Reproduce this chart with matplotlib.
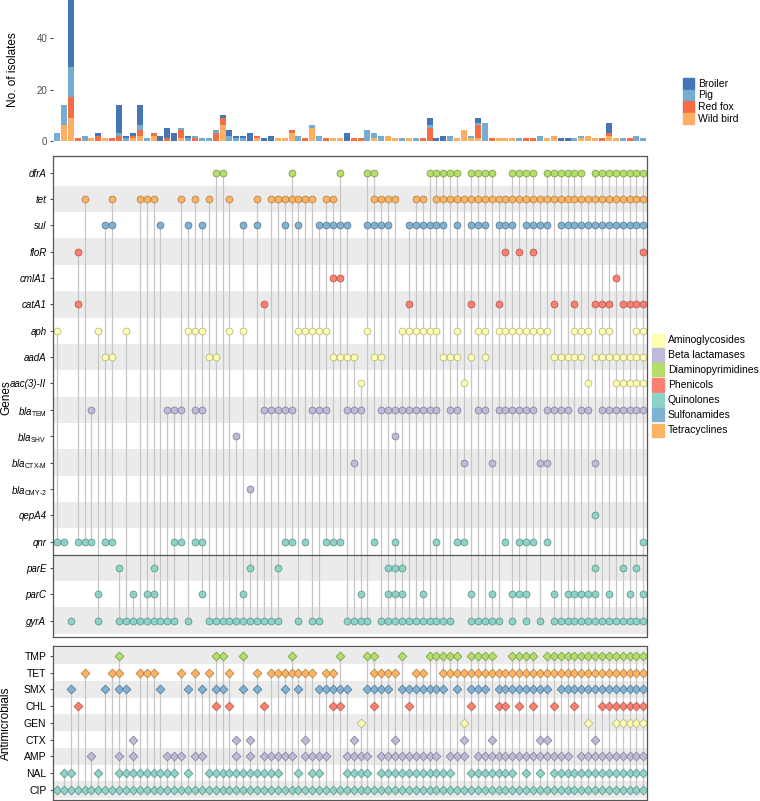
import matplotlib.pyplot as plt
import matplotlib.colors as mcolors
from matplotlib.patches import Rectangle

plt.rcParams["font.family"] = ["Liberation Sans", "DejaVu Sans"]
plt.rcParams["mathtext.fontset"] = "custom"
plt.rcParams["mathtext.rm"] = "Liberation Sans"
plt.rcParams["mathtext.it"] = "Liberation Sans:italic"

W, H = 760, 801

# isolates per resistance profile, profiles 1..86 from left to right
broiler = [0, 0, 26, 0, 0, 0, 1, 0, 0, 11, 1, 1, 8, 0, 0, 2, 4, 3, 0, 1,
           0, 0, 0, 0, 1, 2, 1, 1, 3, 0, 1, 2, 0, 0, 0, 0, 0, 0, 0, 0,
           0, 0, 3, 0, 0, 0, 0, 0, 0, 0, 0, 0, 0, 0, 3, 1, 2, 0, 0, 0,
           0, 2, 0, 0, 0, 0, 0, 0, 0, 0, 0, 0, 0, 1, 1, 0, 0, 0, 0, 0,
           4, 0, 0, 0, 0, 0]
pig = [3, 8, 12, 0, 2, 0, 0, 0, 0, 1, 1, 0, 2, 1, 0, 0, 0, 0, 1, 1,
       1, 1, 1, 1, 0, 2, 1, 1, 0, 0, 0, 0, 0, 0, 0, 2, 0, 1, 2, 0,
       0, 0, 0, 0, 0, 4, 2, 2, 0, 0, 1, 0, 1, 0, 1, 0, 0, 2, 0, 0,
       1, 1, 7, 0, 0, 0, 0, 1, 0, 0, 2, 0, 0, 0, 0, 1, 1, 0, 0, 0,
       0, 0, 1, 0, 2, 1]
red_fox = [0, 0, 8, 1, 0, 0, 2, 0, 1, 2, 0, 1, 2, 0, 1, 0, 1, 0, 3, 0,
           1, 0, 0, 3, 3, 0, 0, 0, 0, 1, 0, 0, 0, 0, 1, 0, 1, 0, 0, 1,
           0, 0, 0, 1, 1, 0, 0, 0, 0, 0, 0, 0, 0, 1, 5, 0, 0, 0, 0, 0,
           0, 5, 0, 1, 0, 0, 0, 0, 1, 1, 0, 0, 0, 0, 0, 0, 0, 0, 0, 1,
           1, 0, 0, 1, 0, 0]
wild_bird = [0, 6, 9, 0, 0, 1, 0, 1, 0, 0, 0, 1, 2, 0, 2, 0, 0, 0, 1, 0,
             0, 0, 0, 0, 6, 0, 0, 0, 0, 1, 0, 0, 1, 1, 3, 0, 0, 5, 0, 0,
             1, 1, 0, 0, 0, 0, 1, 0, 2, 1, 0, 1, 0, 0, 0, 0, 0, 0, 1, 4,
             1, 1, 0, 0, 1, 1, 1, 0, 0, 0, 0, 1, 2, 0, 0, 0, 1, 2, 1, 0,
             2, 1, 0, 0, 0, 0]

hosts = ["Broiler", "Pig", "Red fox", "Wild bird"]
host_colors = ["#4575B4", "#74ADD1", "#F46D43", "#FDAE61"]

drug_classes = ["Aminoglycosides", "Beta lactamases", "Diaminopyrimidines",
                "Phenicols", "Quinolones", "Sulfonamides", "Tetracyclines"]
class_colors = ["#FFFFB3", "#BEBADA", "#B3DE69", "#FB8072", "#8DD3C7",
                "#80B1D3", "#FDB462"]

# genes found, listed as profile numbers
dfrA = [24, 25, 35, 42, 46, 47, 55, 56, 57, 58, 59, 61, 62, 63, 64, 67, 68,
        69, 70, 72, 73, 74, 75, 76, 77, 79, 80, 81, 82, 83, 84, 85, 86]
tet = [5, 9, 13, 14, 15, 19, 21, 23, 26, 30, 32, 33, 34, 35, 36, 37, 38, 40,
       41, 47, 48, 49, 50, 53, 54] + list(range(56, 87))
sul = [8, 9, 16, 20, 22, 28, 30, 34, 36, 39, 40, 41, 42, 43, 46, 47, 48, 49,
       52, 53, 54, 55, 56, 57, 59, 61, 62, 63, 65, 66, 67, 69, 70, 71, 72] + list(range(74, 87))
floR = [4, 66, 68, 70, 86]
cmlA1 = [41, 42, 82]
catA1 = [4, 31, 52, 61, 65, 73, 76, 79, 80, 81, 83, 84, 85, 86]
aph = [1, 7, 11, 20, 21, 22, 26, 28, 36, 37, 38, 39, 40, 46, 51, 52, 53, 54,
       55, 56, 59, 62, 63, 65, 66, 67, 68, 69, 70, 71, 72, 76, 77, 78, 80, 81,
       85, 86]
aadA = [8, 9, 23, 24, 41, 42, 43, 44, 47, 48, 57, 58, 59, 61, 63, 73, 74, 75,
        76, 77, 79, 80, 81, 82, 83, 84, 85, 86]
aac3_II = [45, 60, 78, 82, 83, 84, 85, 86]
bla_tem = [6, 17, 18, 19, 21, 22, 31, 32, 33, 34, 35, 38, 39, 40, 43, 44, 45,
           48, 49, 50, 51, 52, 53, 54, 55, 56, 58, 59, 62, 63, 65, 66, 67, 68,
           69, 70, 72, 73, 74, 75, 77, 78, 80, 81, 82, 83, 84, 85, 86]
bla_shv = [27, 50]
bla_ctxm = [44, 60, 64, 71, 72, 79]
bla_cmy2 = [29]
qepA4 = [79]
qnr = [1, 2, 4, 5, 6, 8, 9, 18, 19, 21, 22, 34, 35, 37, 40, 41, 42, 47, 50,
       56, 59, 60, 66, 68, 69, 70, 72, 86]
parE = [10, 15, 29, 33, 49, 50, 51, 79, 83, 85]
parC = [7, 12, 14, 15, 22, 28, 45, 49, 50, 51, 54, 61, 64, 67, 68, 69, 73, 75,
        76, 77, 78, 79, 81, 84, 86]
gyrA = [3, 7, 10, 11, 12, 13, 14, 15, 16, 17, 18, 20, 23, 24, 25, 26, 27, 28,
        29, 30, 31, 32, 33, 36, 38, 39, 43, 44, 45, 46, 48, 49, 50, 51, 52, 53,
        54, 55, 56, 57, 58, 61, 62, 63, 64, 65, 67, 69, 71] + list(range(73, 87))

gene_labels = ["dfrA", "tet", "sul", "floR", "cmlA1", "catA1", "aph", "aadA",
               "aac(3)-II", r"$\mathit{bla}_{\mathrm{TEM}}$",
               r"$\mathit{bla}_{\mathrm{SHV}}$", r"$\mathit{bla}_{\text{CTX-M}}$",
               r"$\mathit{bla}_{\text{CMY-2}}$", "qepA4", "qnr", "parE", "parC",
               "gyrA"]
gene_rows = [dfrA, tet, sul, floR, cmlA1, catA1, aph, aadA, aac3_II, bla_tem,
             bla_shv, bla_ctxm, bla_cmy2, qepA4, qnr, parE, parC, gyrA]
gene_class = ["Diaminopyrimidines", "Tetracyclines", "Sulfonamides",
              "Phenicols", "Phenicols", "Phenicols", "Aminoglycosides",
              "Aminoglycosides", "Aminoglycosides", "Beta lactamases",
              "Beta lactamases", "Beta lactamases", "Beta lactamases",
              "Quinolones", "Quinolones", "Quinolones", "Quinolones",
              "Quinolones"]

# phenotypic resistance, profile numbers
TMP = [10, 24, 25, 28, 35, 42, 46, 47, 51, 55, 56, 57, 58, 59, 61, 62, 63,
       64, 67, 68, 69, 70] + list(range(72, 87))
TET = [5, 9, 10, 13, 14, 15, 19, 21, 23, 26, 30, 32, 33, 34, 35, 36, 37, 38,
       40, 41, 47, 48, 49, 50, 53, 54] + list(range(57, 87))
SMX = [3, 8, 10, 11, 16, 20, 22, 24, 25, 28, 30, 34, 36, 39, 40, 41, 42, 43,
       46, 47, 48, 49, 51, 52, 53, 54, 55, 56, 57, 59, 61, 62, 63, 65, 66, 67,
       68, 69, 70, 71, 72] + list(range(74, 87))
CHL = [4, 24, 26, 31, 41, 42, 47, 52, 61, 65, 66, 68, 70, 73, 76, 80, 81, 82,
       83, 84, 85, 86]
GEN = [45, 60, 78, 82, 83, 84, 85, 86]
CTX = [12, 27, 29, 37, 44, 50, 60, 64, 71, 72, 79]
AMP = [6, 10, 12, 17, 18, 19, 21, 22, 27, 29, 31, 32, 33, 34, 35, 37, 38, 39,
       40, 43, 44, 45, 46, 48, 49, 50, 51, 52, 53, 54, 55, 56, 58, 59, 60] + \
      list(range(62, 76)) + list(range(77, 87))
NAL = [2, 3, 7, 10, 11, 12, 13, 14, 15, 16, 17, 18, 20, 23, 24, 25, 26, 27,
       28, 29, 30, 31, 32, 33, 36, 38, 39, 43, 44, 45, 46] + \
      list(range(48, 59)) + list(range(61, 68)) + [69, 71] + list(range(73, 87))
CIP = list(range(1, 87))

amr_labels = ["TMP", "TET", "SMX", "CHL", "GEN", "CTX", "AMP", "NAL", "CIP"]
amr_rows = [TMP, TET, SMX, CHL, GEN, CTX, AMP, NAL, CIP]
amr_class = ["Diaminopyrimidines", "Tetracyclines", "Sulfonamides", "Phenicols",
             "Aminoglycosides", "Beta lactamases", "Beta lactamases",
             "Quinolones", "Quinolones"]

profiles = list(range(1, len(broiler) + 1))


def fig_rect(left, top, right, bottom):
    return [left / W, 1 - bottom / H, (right - left) / W, (bottom - top) / H]


def darker(color, f=0.72):
    r, g, b = mcolors.to_rgb(color)
    return (r * f, g * f, b * f)


def draw_matrix(ax, rows, classes, labels, marker, size, shade_even, fs):
    for k in range(len(rows)):
        if (k % 2 == 0) == shade_even:
            ax.axhspan(k - 0.5, k + 0.5, color="#EBEBEB", lw=0, zorder=0)
    for p in profiles:
        hit = [k for k, row in enumerate(rows) if p in row]
        if len(hit) > 1:
            ax.plot([p, p], [min(hit), max(hit)], color="#C6C6C6", lw=0.9,
                    zorder=1)
    for k, row in enumerate(rows):
        color = class_colors[drug_classes.index(classes[k])]
        ax.scatter(row, [k] * len(row), marker=marker, s=size, color=color,
                   edgecolors=darker(color), linewidths=0.6, zorder=2)
    ax.set_xlim(0.38, 86.45)
    ax.set_yticks(range(len(rows)))
    ax.set_yticklabels(labels, fontsize=fs)
    ax.set_xticks([])
    ax.tick_params(axis="y", length=2, color="#555555", pad=2.5)
    for s in ax.spines.values():
        s.set_color("#555555")
        s.set_linewidth(0.9)


fig = plt.figure(figsize=(W / 100, H / 100), dpi=100)

# stacked bars
ax_bar = fig.add_axes(fig_rect(52.7, 0, 646.5, 140.7))
bottom = [0] * len(profiles)
for counts, color in zip([wild_bird, red_fox, pig, broiler], host_colors[::-1]):
    ax_bar.bar(profiles, counts, bottom=bottom, width=0.87, color=color, lw=0)
    bottom = [b + c for b, c in zip(bottom, counts)]
ax_bar.set_xlim(0.38, 86.45)
ax_bar.set_ylim(0, 55)
ax_bar.set_yticks([0, 20, 40])
ax_bar.set_xticks([])
ax_bar.tick_params(axis="y", length=2, labelsize=7, colors="#4D4D4D", pad=2)
for s in ax_bar.spines.values():
    s.set_visible(False)

# genes
ax_gene = fig.add_axes(fig_rect(52.7, 156, 646.5, 637))
draw_matrix(ax_gene, gene_rows, gene_class, gene_labels, "o", 24, False, 7)
for t in ax_gene.get_yticklabels():
    t.set_fontstyle("italic")
ax_gene.axhline(14.5, color="#555555", lw=0.9, zorder=3)
ax_gene.set_ylim(17.62, -0.63)

# antimicrobials
ax_amr = fig.add_axes(fig_rect(52.7, 646.3, 646.5, 799.7))
draw_matrix(ax_amr, amr_rows, amr_class, amr_labels, "D", 20, True, 7.5)
ax_amr.set_ylim(8.6, -0.58)

fig.text(13 / W, 1 - 70 / H, "No. of isolates", rotation=90, ha="center",
         va="center", fontsize=8.5)
fig.text(6 / W, 1 - 398 / H, "Genes", rotation=90, ha="center", va="center",
         fontsize=8.5)
fig.text(6 / W, 1 - 723 / H, "Antimicrobials", rotation=90, ha="center",
         va="center", fontsize=8.5)

# legends
for i, (name, color) in enumerate(zip(hosts, host_colors)):
    y = 78.5 + 11.5 * i
    fig.patches.append(Rectangle((683 / W, 1 - (y + 11) / H), 11 / W, 11 / H,
                                 color=color, transform=fig.transFigure))
    fig.text(698 / W, 1 - (y + 5.5) / H, name, va="center", fontsize=7.5)

for i, (name, color) in enumerate(zip(drug_classes, class_colors)):
    y = 340 + 15 * i
    fig.patches.append(Rectangle((652 / W, 1 - (y + 6.5) / H), 12 / W, 13 / H,
                                 color=color, transform=fig.transFigure))
    fig.text(668 / W, 1 - y / H, name, va="center", fontsize=7.5)

fig.savefig("out.png", dpi=100)
